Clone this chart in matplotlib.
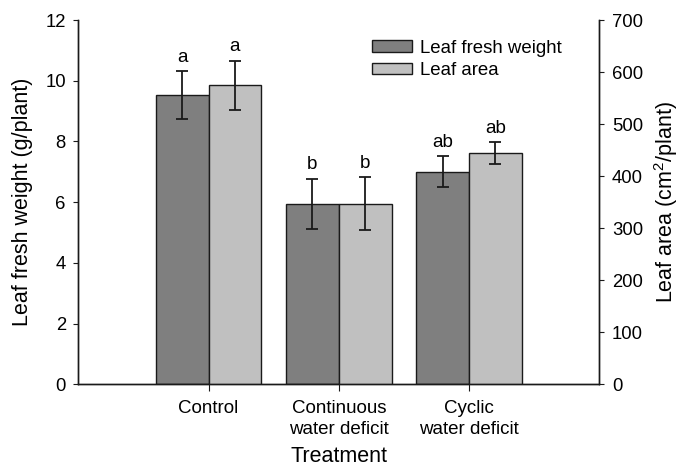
import matplotlib
matplotlib.use("Agg")
import matplotlib.pyplot as plt
import numpy as np

plt.rcParams['font.family'] = ['Liberation Sans', 'DejaVu Sans']
plt.rcParams['mathtext.fontset'] = 'custom'
plt.rcParams['mathtext.rm'] = 'Liberation Sans'

categories = ["Control", "Continuous\nwater deficit", "Cyclic\nwater deficit"]
fresh_weight = [9.53, 5.94, 7.00]
fresh_weight_err = [0.78, 0.83, 0.51]
leaf_area = [575, 347, 444]
leaf_area_err = [47, 51, 21]
fw_letters = ["a", "b", "ab"]
la_letters = ["a", "b", "ab"]

fig = plt.figure(figsize=(6.82, 4.67), dpi=100)
ax = fig.add_axes([0.1148, 0.1771, 0.7639, 0.7800])
ax2 = ax.twinx()

x = np.arange(1, len(categories) + 1)
w = 0.406
dark = "#7f7f7f"
light = "#c0c0c0"
ink = "#1a1a1a"

b1 = ax.bar(x - w / 2, fresh_weight, w, color=dark, edgecolor=ink, linewidth=1.0,
            label="Leaf fresh weight", zorder=2)
ax.errorbar(x - w / 2, fresh_weight, yerr=fresh_weight_err, fmt="none", ecolor=ink,
            elinewidth=1.3, capsize=4.3, capthick=1.3, zorder=3)
b2 = ax2.bar(x + w / 2, leaf_area, w, color=light, edgecolor=ink, linewidth=1.0,
             label="Leaf area", zorder=2)
ax2.errorbar(x + w / 2, leaf_area, yerr=leaf_area_err, fmt="none", ecolor=ink,
             elinewidth=1.3, capsize=4.3, capthick=1.3, zorder=3)

for xi, v, e, t in zip(x - w / 2, fresh_weight, fresh_weight_err, fw_letters):
    ax.annotate(t, (xi, v + e), xytext=(0, 4), textcoords="offset points",
                ha="center", va="bottom", fontsize=13.5)
for xi, v, e, t in zip(x + w / 2, leaf_area, leaf_area_err, la_letters):
    ax2.annotate(t, (xi, v + e), xytext=(0, 4), textcoords="offset points",
                 ha="center", va="bottom", fontsize=13.5)

ax.set_xlim(0, 4)
ax.set_ylim(0, 12)
ax2.set_ylim(0, 700)
ax.set_yticks(np.arange(0, 13, 2))
ax2.set_yticks(np.arange(0, 701, 100))
ax.set_xticks(x)
ax.set_xticklabels(categories, fontsize=13.5, linespacing=1.35)
ax.tick_params(axis="y", labelsize=13.3, direction="out", length=3.5, pad=5.5, color=ink)
ax2.tick_params(axis="y", labelsize=13.3, direction="out", length=3.5, pad=5.5, color=ink)
ax.tick_params(axis="x", direction="out", length=5, pad=6, color=ink)

for a in (ax, ax2):
    a.spines["top"].set_visible(False)
    for s in a.spines.values():
        s.set_linewidth(1.0)
        s.set_color(ink)

ax.set_xlabel("Treatment", fontsize=15.5)
ax.set_ylabel("Leaf fresh weight (g/plant)", fontsize=15.5)
ax2.set_ylabel("Leaf area (cm$^2$/plant)", fontsize=15.5)
ax.xaxis.set_label_coords(0.5, -0.17)
ax.yaxis.set_label_coords(-0.087, 0.5)
ax2.yaxis.set_label_coords(1.102, 0.5)

ax.legend(handles=[b1, b2], loc="upper left", bbox_to_anchor=(0.5455, 0.9154),
          bbox_transform=fig.transFigure, frameon=False, borderpad=0, borderaxespad=0,
          fontsize=13.4, handlelength=2.15, handleheight=0.58, handletextpad=0.43,
          labelspacing=0.3)

fig.savefig("out.png", dpi=100)
